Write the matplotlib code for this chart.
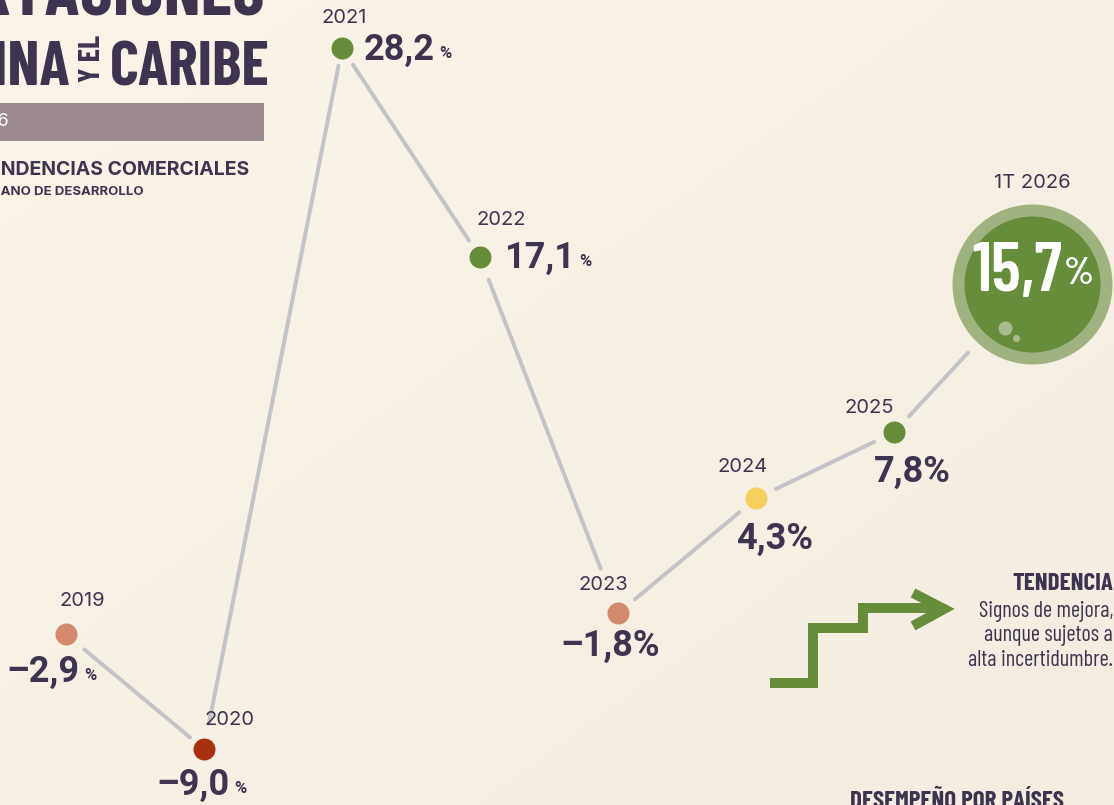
import numpy as np
import matplotlib
matplotlib.use("Agg")
import matplotlib.pyplot as plt
from matplotlib.lines import Line2D
from matplotlib.patches import Rectangle
import matplotlib.transforms as mtransforms

# ---------------- data ----------------
periods = ["2019", "2020", "2021", "2022", "2023", "2024", "2025", "1T 2026"]
growth = [-2.9, -9.0, 28.2, 17.1, -1.8, 4.3, 7.8, 15.7]
point_colors = ["#d48a6c", "#a8300f", "#678c3a", "#678c3a",
                "#d48a6c", "#f6cf5c", "#678c3a", "#678c3a"]
small_pct = [True, True, True, True, False, False, False, False]

title_top = "EXPORTACIONES"
title_left = "LATINA"
title_mid = "Y EL"
title_right = "CARIBE"
period_tag = "1T 2026"
subtitle = "TENDENCIAS COMERCIALES"
source = "BANCO INTERAMERICANO DE DESARROLLO"
trend_title = "TENDENCIA"
trend_lines = ["Signos de mejora,", "aunque sujetos a", "alta incertidumbre."]
bottom_title = "DESEMPEÑO POR PAÍSES"

# ---------------- style ----------------
W, H = 1114, 805
BG = "#f9f4e6"
INK = "#3e3450"
LINE = "#c3c3c7"
COND = ["Barlow Condensed", "DejaVu Sans"]
SANS = ["Inter", "DejaVu Sans"]
NUM = ["Roboto", "DejaVu Sans"]
PX = 0.72  # points per pixel at 100 dpi

fig = plt.figure(figsize=(W / 100, H / 100), dpi=100)
fig.patch.set_facecolor(BG)


def px(x, y):
    return x / W, 1 - y / H


# soft background gradient
bgax = fig.add_axes([0, 0, 1, 1], zorder=-10)
gy, gx = np.mgrid[0:1:200j, 0:1:200j]
t = np.clip(gx * 0.5 + gy * 0.5, 0, 1)[..., None]
c0 = np.array(matplotlib.colors.to_rgb("#faf5e8"))
c1 = np.array(matplotlib.colors.to_rgb("#f3eee1"))
bgax.imshow(c0 * (1 - t) + c1 * t, aspect="auto", extent=[0, 1, 0, 1])
bgax.axis("off")

# main axes
ax = fig.add_axes([0, 0, 1, 1])
ax.patch.set_alpha(0)
ax.axis("off")
ax.set_xlim(-0.478, 7.594)
ax.set_ylim(-11.97, 30.75)

x = np.arange(len(periods))
y = np.array(growth)

# connecting segments with gaps near the markers (computed in display space)
fig.canvas.draw()
disp = ax.transData.transform(np.column_stack([x, y]))
start_gap = [24, 26, 20, 24, 22, 22, 22]
end_gap = [18, 18, 20, 48, 22, 22, 94]
inv = ax.transData.inverted()
for i in range(len(x) - 1):
    p0, p1 = disp[i], disp[i + 1]
    d = p1 - p0
    u = d / np.hypot(*d)
    a = p0 + u * start_gap[i]
    b = p1 - u * end_gap[i]
    da, db = inv.transform([a, b])
    ax.plot([da[0], db[0]], [da[1], db[1]], color=LINE, lw=4 * PX,
            solid_capstyle="round", zorder=1)

# markers
for i in range(len(x) - 1):
    ax.plot(x[i], y[i], "o", ms=22 * PX, color=point_colors[i], mec="none", zorder=3)

# big highlighted last point
ax.plot(x[-1], y[-1], "o", ms=160 * PX, color="#9fb27f", mec="none", zorder=3)
ax.plot(x[-1], y[-1], "o", ms=136 * PX, color=point_colors[-1], mec="none", zorder=4)
for (dx, dy, r) in [(-27, 44, 14), (-16, 54, 7)]:
    tr = mtransforms.offset_copy(ax.transData, fig=fig, x=dx * PX, y=-dy * PX, units="points")
    ax.plot(x[-1], y[-1], "o", ms=r * PX, color="#a9bb8c", mec="none", zorder=5, transform=tr)

# year labels
year_off = [(16, -33), (26, -29), (2, -30), (21, -37), (-15, -28), (-13, -31), (-25, -24), (0, -101)]
for i, lab in enumerate(periods):
    dx, dy = year_off[i]
    ax.annotate(lab, (x[i], y[i]), xytext=(dx * PX, -dy * PX), textcoords="offset points",
                ha="center", va="center", fontsize=14.5, color=INK, family=SANS, zorder=6)


def fmt(v):
    s = f"{abs(v):.1f}".replace(".", ",")
    return ("\u2013" + s) if v < 0 else s


# value labels: (dx, dy, ha) in pixels relative to the point
num_off = [(14, 38, "right"), (26, 36, "right"), (22, 2, "left"), (24, 1, "left"),
           (-8, 33, "center"), (19, 40, "center"), (18, 39, "center")]
for i in range(len(x) - 1):
    dx, dy, ha = num_off[i]
    if small_pct[i]:
        t_num = ax.annotate(fmt(y[i]), (x[i], y[i]), xytext=(dx * PX, -dy * PX),
                            textcoords="offset points", ha=ha, va="center",
                            fontsize=26, fontweight="bold", color=INK, family=NUM, zorder=6)
        ax.annotate("%", (1, 0), xycoords=t_num, xytext=(3, 5), textcoords="offset points",
                    ha="left", va="bottom", fontsize=12, fontweight="bold",
                    color=INK, family=NUM, zorder=6)
    else:
        ax.annotate(fmt(y[i]) + "%", (x[i], y[i]), xytext=(dx * PX, -dy * PX),
                    textcoords="offset points", ha=ha, va="center",
                    fontsize=26, fontweight="bold", color=INK, family=NUM, zorder=6)

# value inside big circle
t_big = ax.annotate(fmt(y[-1]), (x[-1], y[-1]), xytext=(30 * PX, 10 * PX),
                    textcoords="offset points", ha="right", va="center",
                    fontsize=50, fontweight="semibold", color="white", family=COND, zorder=6)
ax.annotate("%", (1, 0), xycoords=t_big, xytext=(1, 10), textcoords="offset points",
            ha="left", va="bottom", fontsize=28, fontweight="semibold", color="white",
            family=COND, zorder=6)

# ---------------- header (cropped) ----------------
fig.text(*px(265, 15), title_top, ha="right", va="baseline", fontsize=52,
         fontweight="bold", color=INK, family=COND)
fig.text(*px(70, 85), title_left, ha="right", va="baseline", fontsize=45,
         fontweight="bold", color=INK, family=COND)
fig.text(*px(92, 59), title_mid, ha="center", va="center", rotation=90, fontsize=22,
         fontweight="bold", color=INK, family=COND)
fig.text(*px(110, 85), title_right, ha="left", va="baseline", fontsize=45,
         fontweight="bold", color=INK, family=COND)

fig.patches.append(Rectangle(px(0, 141), 264 / W, 38 / H, transform=fig.transFigure,
                             facecolor="#9a8a8d", edgecolor="none"))
fig.text(*px(9, 122), period_tag, ha="right", va="center", fontsize=13,
         color="white", family=SANS)
fig.text(*px(249, 175), subtitle, ha="right", va="baseline", fontsize=14,
         fontweight="bold", color=INK, family=SANS)
fig.text(*px(144, 195), source, ha="right", va="baseline", fontsize=9.5,
         fontweight="bold", color=INK, family=SANS)

# ---------------- trend block ----------------
GREEN = "#678c3a"
sx = [770, 813, 813, 863, 863, 940]
sy = [683, 683, 628, 628, 608, 608]
fx, fy = zip(*[px(a, b) for a, b in zip(sx, sy)])
fig.add_artist(Line2D(fx, fy, transform=fig.transFigure, color=GREEN, lw=10 * PX,
                      solid_joinstyle="miter", solid_capstyle="butt"))
hx, hy = zip(*[px(a, b) for a, b in zip([913, 944, 913], [593, 609, 626])])
fig.add_artist(Line2D(hx, hy, transform=fig.transFigure, color=GREEN, lw=10 * PX,
                      solid_joinstyle="miter", solid_capstyle="butt"))

fig.text(*px(1113, 590), trend_title, ha="right", va="baseline", fontsize=18,
         fontweight="bold", color=INK, family=COND)
for k, line in enumerate(trend_lines):
    fig.text(*px(1113, 611 + 24.5 * k), line, ha="right", va="center", fontsize=16,
             color=INK, family=COND)

fig.text(*px(850, 791), bottom_title, ha="left", va="top", fontsize=18,
         fontweight="bold", color=INK, family=COND)

fig.savefig("out.png", dpi=100, facecolor=fig.get_facecolor())
